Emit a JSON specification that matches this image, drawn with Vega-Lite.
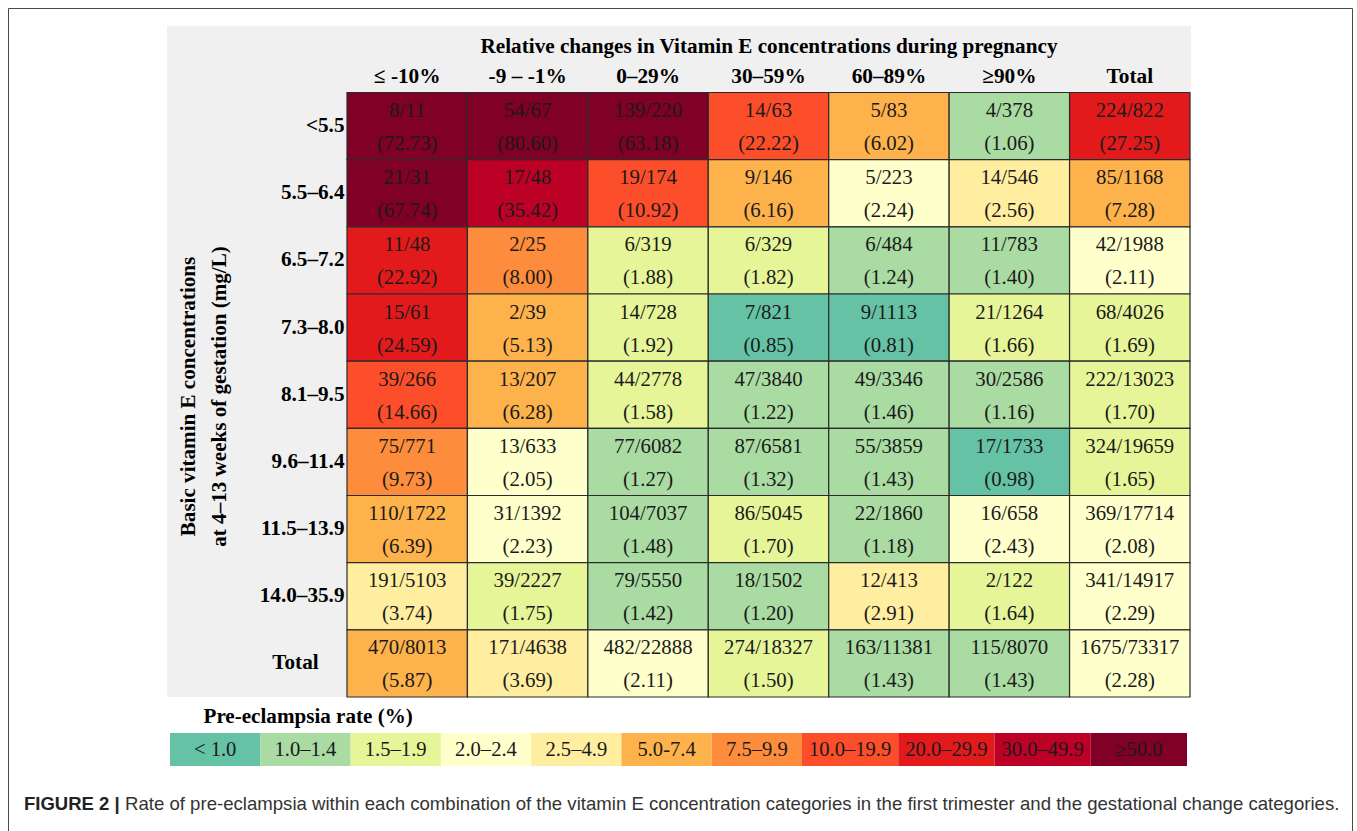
{
  "$schema": "https://vega.github.io/schema/vega-lite/v6.json",
  "width": 1344,
  "height": 823,
  "autosize": {"type": "none"},
  "padding": {"left": 8, "top": 8, "right": 5, "bottom": 0},
  "background": "white",
  "config": {
    "view": {"stroke": "#4a4a4a", "strokeWidth": 1},
    "font": "Liberation Serif"
  },
  "datasets": {
    "panel": [{"k": "panel"}],
    "caption": [{"k": "cap", "lead": "FIGURE 2 |", "body": "Rate of pre-eclampsia within each combination of the vitamin E concentration categories in the first trimester and the gestational change categories."}],
    "legendLow": [
      {"cat": "< 1.0", "lg": "L"},
      {"cat": "1.0–1.4", "lg": "L"},
      {"cat": "1.5–1.9", "lg": "L"},
      {"cat": "2.0–2.4", "lg": "L"},
      {"cat": "2.5–4.9", "lg": "L"},
      {"cat": "5.0-7.4", "lg": "L"},
      {"cat": "7.5–9.9", "lg": "L"}
    ],
    "legendHigh": [
      {"cat": "10.0–19.9", "lg": "L"},
      {"cat": "20.0–29.9", "lg": "L"},
      {"cat": "30.0–49.9", "lg": "L"},
      {"cat": "≥50.0", "lg": "L"}
    ],
    "table": [
      {"r": "<5.5", "c": "≤ -10%", "n": "8/11", "pct": "(72.73)", "rate": 72.73, "cat": "≥50.0"},
      {"r": "<5.5", "c": "-9 – -1%", "n": "54/67", "pct": "(80.60)", "rate": 80.60, "cat": "≥50.0"},
      {"r": "<5.5", "c": "0–29%", "n": "139/220", "pct": "(63.18)", "rate": 63.18, "cat": "≥50.0"},
      {"r": "<5.5", "c": "30–59%", "n": "14/63", "pct": "(22.22)", "rate": 22.22, "cat": "10.0–19.9"},
      {"r": "<5.5", "c": "60–89%", "n": "5/83", "pct": "(6.02)", "rate": 6.02, "cat": "5.0-7.4"},
      {"r": "<5.5", "c": "≥90%", "n": "4/378", "pct": "(1.06)", "rate": 1.06, "cat": "1.0–1.4"},
      {"r": "<5.5", "c": "Total", "n": "224/822", "pct": "(27.25)", "rate": 27.25, "cat": "20.0–29.9"},

      {"r": "5.5–6.4", "c": "≤ -10%", "n": "21/31", "pct": "(67.74)", "rate": 67.74, "cat": "≥50.0"},
      {"r": "5.5–6.4", "c": "-9 – -1%", "n": "17/48", "pct": "(35.42)", "rate": 35.42, "cat": "30.0–49.9"},
      {"r": "5.5–6.4", "c": "0–29%", "n": "19/174", "pct": "(10.92)", "rate": 10.92, "cat": "10.0–19.9"},
      {"r": "5.5–6.4", "c": "30–59%", "n": "9/146", "pct": "(6.16)", "rate": 6.16, "cat": "5.0-7.4"},
      {"r": "5.5–6.4", "c": "60–89%", "n": "5/223", "pct": "(2.24)", "rate": 2.24, "cat": "2.0–2.4"},
      {"r": "5.5–6.4", "c": "≥90%", "n": "14/546", "pct": "(2.56)", "rate": 2.56, "cat": "2.5–4.9"},
      {"r": "5.5–6.4", "c": "Total", "n": "85/1168", "pct": "(7.28)", "rate": 7.28, "cat": "5.0-7.4"},

      {"r": "6.5–7.2", "c": "≤ -10%", "n": "11/48", "pct": "(22.92)", "rate": 22.92, "cat": "20.0–29.9"},
      {"r": "6.5–7.2", "c": "-9 – -1%", "n": "2/25", "pct": "(8.00)", "rate": 8.00, "cat": "7.5–9.9"},
      {"r": "6.5–7.2", "c": "0–29%", "n": "6/319", "pct": "(1.88)", "rate": 1.88, "cat": "1.5–1.9"},
      {"r": "6.5–7.2", "c": "30–59%", "n": "6/329", "pct": "(1.82)", "rate": 1.82, "cat": "1.5–1.9"},
      {"r": "6.5–7.2", "c": "60–89%", "n": "6/484", "pct": "(1.24)", "rate": 1.24, "cat": "1.0–1.4"},
      {"r": "6.5–7.2", "c": "≥90%", "n": "11/783", "pct": "(1.40)", "rate": 1.40, "cat": "1.0–1.4"},
      {"r": "6.5–7.2", "c": "Total", "n": "42/1988", "pct": "(2.11)", "rate": 2.11, "cat": "2.0–2.4"},

      {"r": "7.3–8.0", "c": "≤ -10%", "n": "15/61", "pct": "(24.59)", "rate": 24.59, "cat": "20.0–29.9"},
      {"r": "7.3–8.0", "c": "-9 – -1%", "n": "2/39", "pct": "(5.13)", "rate": 5.13, "cat": "5.0-7.4"},
      {"r": "7.3–8.0", "c": "0–29%", "n": "14/728", "pct": "(1.92)", "rate": 1.92, "cat": "1.5–1.9"},
      {"r": "7.3–8.0", "c": "30–59%", "n": "7/821", "pct": "(0.85)", "rate": 0.85, "cat": "< 1.0"},
      {"r": "7.3–8.0", "c": "60–89%", "n": "9/1113", "pct": "(0.81)", "rate": 0.81, "cat": "< 1.0"},
      {"r": "7.3–8.0", "c": "≥90%", "n": "21/1264", "pct": "(1.66)", "rate": 1.66, "cat": "1.5–1.9"},
      {"r": "7.3–8.0", "c": "Total", "n": "68/4026", "pct": "(1.69)", "rate": 1.69, "cat": "1.5–1.9"},

      {"r": "8.1–9.5", "c": "≤ -10%", "n": "39/266", "pct": "(14.66)", "rate": 14.66, "cat": "10.0–19.9"},
      {"r": "8.1–9.5", "c": "-9 – -1%", "n": "13/207", "pct": "(6.28)", "rate": 6.28, "cat": "5.0-7.4"},
      {"r": "8.1–9.5", "c": "0–29%", "n": "44/2778", "pct": "(1.58)", "rate": 1.58, "cat": "1.5–1.9"},
      {"r": "8.1–9.5", "c": "30–59%", "n": "47/3840", "pct": "(1.22)", "rate": 1.22, "cat": "1.0–1.4"},
      {"r": "8.1–9.5", "c": "60–89%", "n": "49/3346", "pct": "(1.46)", "rate": 1.46, "cat": "1.0–1.4"},
      {"r": "8.1–9.5", "c": "≥90%", "n": "30/2586", "pct": "(1.16)", "rate": 1.16, "cat": "1.0–1.4"},
      {"r": "8.1–9.5", "c": "Total", "n": "222/13023", "pct": "(1.70)", "rate": 1.70, "cat": "1.5–1.9"},

      {"r": "9.6–11.4", "c": "≤ -10%", "n": "75/771", "pct": "(9.73)", "rate": 9.73, "cat": "7.5–9.9"},
      {"r": "9.6–11.4", "c": "-9 – -1%", "n": "13/633", "pct": "(2.05)", "rate": 2.05, "cat": "2.0–2.4"},
      {"r": "9.6–11.4", "c": "0–29%", "n": "77/6082", "pct": "(1.27)", "rate": 1.27, "cat": "1.0–1.4"},
      {"r": "9.6–11.4", "c": "30–59%", "n": "87/6581", "pct": "(1.32)", "rate": 1.32, "cat": "1.0–1.4"},
      {"r": "9.6–11.4", "c": "60–89%", "n": "55/3859", "pct": "(1.43)", "rate": 1.43, "cat": "1.0–1.4"},
      {"r": "9.6–11.4", "c": "≥90%", "n": "17/1733", "pct": "(0.98)", "rate": 0.98, "cat": "< 1.0"},
      {"r": "9.6–11.4", "c": "Total", "n": "324/19659", "pct": "(1.65)", "rate": 1.65, "cat": "1.5–1.9"},

      {"r": "11.5–13.9", "c": "≤ -10%", "n": "110/1722", "pct": "(6.39)", "rate": 6.39, "cat": "5.0-7.4"},
      {"r": "11.5–13.9", "c": "-9 – -1%", "n": "31/1392", "pct": "(2.23)", "rate": 2.23, "cat": "2.0–2.4"},
      {"r": "11.5–13.9", "c": "0–29%", "n": "104/7037", "pct": "(1.48)", "rate": 1.48, "cat": "1.0–1.4"},
      {"r": "11.5–13.9", "c": "30–59%", "n": "86/5045", "pct": "(1.70)", "rate": 1.70, "cat": "1.5–1.9"},
      {"r": "11.5–13.9", "c": "60–89%", "n": "22/1860", "pct": "(1.18)", "rate": 1.18, "cat": "1.0–1.4"},
      {"r": "11.5–13.9", "c": "≥90%", "n": "16/658", "pct": "(2.43)", "rate": 2.43, "cat": "2.0–2.4"},
      {"r": "11.5–13.9", "c": "Total", "n": "369/17714", "pct": "(2.08)", "rate": 2.08, "cat": "2.0–2.4"},

      {"r": "14.0–35.9", "c": "≤ -10%", "n": "191/5103", "pct": "(3.74)", "rate": 3.74, "cat": "2.5–4.9"},
      {"r": "14.0–35.9", "c": "-9 – -1%", "n": "39/2227", "pct": "(1.75)", "rate": 1.75, "cat": "1.5–1.9"},
      {"r": "14.0–35.9", "c": "0–29%", "n": "79/5550", "pct": "(1.42)", "rate": 1.42, "cat": "1.0–1.4"},
      {"r": "14.0–35.9", "c": "30–59%", "n": "18/1502", "pct": "(1.20)", "rate": 1.20, "cat": "1.0–1.4"},
      {"r": "14.0–35.9", "c": "60–89%", "n": "12/413", "pct": "(2.91)", "rate": 2.91, "cat": "2.5–4.9"},
      {"r": "14.0–35.9", "c": "≥90%", "n": "2/122", "pct": "(1.64)", "rate": 1.64, "cat": "1.5–1.9"},
      {"r": "14.0–35.9", "c": "Total", "n": "341/14917", "pct": "(2.29)", "rate": 2.29, "cat": "2.0–2.4"},

      {"r": "Total", "c": "≤ -10%", "n": "470/8013", "pct": "(5.87)", "rate": 5.87, "cat": "5.0-7.4"},
      {"r": "Total", "c": "-9 – -1%", "n": "171/4638", "pct": "(3.69)", "rate": 3.69, "cat": "2.5–4.9"},
      {"r": "Total", "c": "0–29%", "n": "482/22888", "pct": "(2.11)", "rate": 2.11, "cat": "2.0–2.4"},
      {"r": "Total", "c": "30–59%", "n": "274/18327", "pct": "(1.50)", "rate": 1.50, "cat": "1.5–1.9"},
      {"r": "Total", "c": "60–89%", "n": "163/11381", "pct": "(1.43)", "rate": 1.43, "cat": "1.0–1.4"},
      {"r": "Total", "c": "≥90%", "n": "115/8070", "pct": "(1.43)", "rate": 1.43, "cat": "1.0–1.4"},
      {"r": "Total", "c": "Total", "n": "1675/73317", "pct": "(2.28)", "rate": 2.28, "cat": "2.0–2.4"}
    ]
  },
  "resolve": {"scale": {"x": "independent", "y": "independent"}},
  "layer": [
    {
      "data": {"name": "panel"},
      "mark": {"type": "rect", "fill": "#f0f0f0"},
      "encoding": {
        "x": {"field": "k", "type": "nominal", "axis": null,
              "scale": {"type": "band", "paddingInner": 0, "paddingOuter": 0, "range": [159, 1183]}},
        "y": {"field": "k", "type": "nominal", "axis": null,
              "scale": {"type": "band", "paddingInner": 0, "paddingOuter": 0, "range": [18, 689]}}
      }
    },
    {
      "data": {"name": "table"},
      "encoding": {
        "x": {"field": "c", "type": "nominal",
              "scale": {"type": "band", "domain": ["≤ -10%", "-9 – -1%", "0–29%", "30–59%", "60–89%", "≥90%", "Total"], "paddingInner": 0, "paddingOuter": 0, "range": [339, 1182]},
              "axis": {"orient": "top", "offset": -84.5, "domain": false, "ticks": false, "labelPadding": 6, "labelAngle": 0,
                       "labelFont": "Liberation Serif", "labelFontSize": 21.3, "labelFontWeight": "bold", "labelColor": "#000",
                       "title": "Relative changes in Vitamin E concentrations during pregnancy",
                       "titleFont": "Liberation Serif", "titleFontSize": 21.2, "titleFontWeight": "bold", "titleColor": "#000",
                       "titleX": 760.5, "titleY": -40, "titleAlign": "center", "titleBaseline": "alphabetic", "titleAngle": 0}},
        "y": {"field": "r", "type": "nominal",
              "scale": {"type": "band", "domain": ["<5.5", "5.5–6.4", "6.5–7.2", "7.3–8.0", "8.1–9.5", "9.6–11.4", "11.5–13.9", "14.0–35.9", "Total"], "paddingInner": 0, "paddingOuter": 0, "range": [84.5, 689]},
              "axis": {"orient": "left", "offset": -339, "domain": false, "ticks": false,
                       "labelPadding": {"condition": {"test": "datum.value === 'Total'", "value": 52}, "value": 3},
                       "labelAlign": {"condition": {"test": "datum.value === 'Total'", "value": "center"}, "value": "right"},
                       "labelFont": "Liberation Serif", "labelFontSize": 21.2, "labelFontWeight": "bold", "labelColor": "#000",
                       "title": ["Basic vitamin E concentrations", "at 4–13 weeks of gestation (mg/L)"],
                       "titleFont": "Liberation Serif", "titleFontSize": 21.1, "titleFontWeight": "bold", "titleColor": "#000",
                       "titleAngle": -90, "titleLineHeight": 31, "titleX": -153, "titleY": 388, "titleAlign": "center", "titleBaseline": "alphabetic"}}
      },
      "layer": [
        {
          "mark": {"type": "rect", "stroke": "#2b2b2b", "strokeWidth": 1.2},
          "encoding": {
            "color": {"field": "cat", "type": "nominal", "legend": null,
                      "scale": {"domain": ["< 1.0", "1.0–1.4", "1.5–1.9", "2.0–2.4", "2.5–4.9", "5.0-7.4", "7.5–9.9", "10.0–19.9", "20.0–29.9", "30.0–49.9", "≥50.0"],
                                "range": ["#66c2a5", "#a9dba2", "#e6f598", "#ffffcc", "#ffeda0", "#feb24c", "#fd8d3c", "#fc4e2a", "#e31a1c", "#bd0026", "#800026"]}}
          }
        },
        {
          "mark": {"type": "text", "font": "Liberation Serif", "fontSize": 20.8, "color": "#1a1a1a", "baseline": "middle", "dy": -15},
          "encoding": {"text": {"field": "n", "type": "nominal"}}
        },
        {
          "mark": {"type": "text", "font": "Liberation Serif", "fontSize": 20.8, "color": "#1a1a1a", "baseline": "middle", "dy": 18},
          "encoding": {"text": {"field": "pct", "type": "nominal"}}
        }
      ]
    },
    {
      "data": {"name": "legendLow"},
      "encoding": {
        "x": {"field": "cat", "type": "nominal",
              "scale": {"type": "band", "domain": ["< 1.0", "1.0–1.4", "1.5–1.9", "2.0–2.4", "2.5–4.9", "5.0-7.4", "7.5–9.9"], "paddingInner": 0, "paddingOuter": 0, "range": [162, 794]},
              "axis": {"orient": "top", "labels": false, "ticks": false, "domain": false,
                       "title": "Pre-eclampsia rate (%)", "titleFont": "Liberation Serif", "titleFontSize": 21.1, "titleFontWeight": "bold", "titleColor": "#000",
                       "titleX": 195, "titleY": 714, "titleAlign": "left", "titleBaseline": "alphabetic", "titleAngle": 0}},
        "y": {"field": "lg", "type": "nominal", "axis": null,
              "scale": {"type": "band", "paddingInner": 0, "paddingOuter": 0, "range": [725, 758]}}
      },
      "layer": [
        {
          "mark": {"type": "rect"},
          "encoding": {"color": {"field": "cat", "type": "nominal", "legend": null}}
        },
        {
          "mark": {"type": "text", "font": "Liberation Serif", "fontSize": 20.6, "color": "#1a1a1a", "baseline": "middle", "dy": 0},
          "encoding": {"text": {"field": "cat", "type": "nominal"}}
        }
      ]
    },
    {
      "data": {"name": "legendHigh"},
      "encoding": {
        "x": {"field": "cat", "type": "nominal", "axis": null,
              "scale": {"type": "band", "domain": ["10.0–19.9", "20.0–29.9", "30.0–49.9", "≥50.0"], "paddingInner": 0, "paddingOuter": 0, "range": [794, 1179]}},
        "y": {"field": "lg", "type": "nominal", "axis": null,
              "scale": {"type": "band", "paddingInner": 0, "paddingOuter": 0, "range": [725, 758]}}
      },
      "layer": [
        {
          "mark": {"type": "rect"},
          "encoding": {"color": {"field": "cat", "type": "nominal", "legend": null}}
        },
        {
          "mark": {"type": "text", "font": "Liberation Serif", "fontSize": 20.6, "color": "#1a1a1a", "baseline": "middle", "dy": 0},
          "encoding": {"text": {"field": "cat", "type": "nominal"}}
        }
      ]
    },
    {
      "data": {"name": "caption"},
      "encoding": {
        "x": {"field": "k", "type": "nominal", "axis": null, "scale": {"type": "point", "padding": 0, "align": 0.01190}},
        "y": {"field": "k", "type": "nominal", "axis": null, "scale": {"type": "point", "padding": 0, "align": 0.97448}}
      },
      "layer": [
        {
          "mark": {"type": "text", "font": "Liberation Sans", "fontSize": 18.5, "fontWeight": "bold", "align": "left", "baseline": "alphabetic", "color": "#222"},
          "encoding": {"text": {"field": "lead", "type": "nominal"}}
        },
        {
          "mark": {"type": "text", "font": "Liberation Sans", "fontSize": 18.6, "align": "left", "baseline": "alphabetic", "color": "#333", "dx": 101},
          "encoding": {"text": {"field": "body", "type": "nominal"}}
        }
      ]
    }
  ]
}
